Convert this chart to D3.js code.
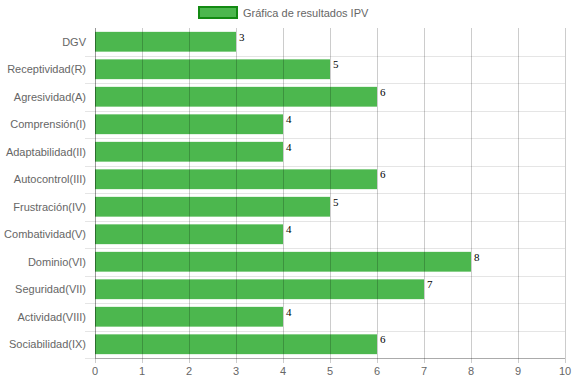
<!DOCTYPE html>
<html>
<head>
<meta charset="utf-8">
<script src="https://cdn.jsdelivr.net/npm/d3@7/dist/d3.min.js"></script>
<style>
  body { margin: 0; background: #fff; }
  svg text { font-family: "Liberation Sans", Arial, sans-serif; }
</style>
</head>
<body>
<div id="chart"></div>
<script>
(function(){
  var categories = ['DGV', 'Receptividad(R)', 'Agresividad(A)', 'Comprensión(I)', 'Adaptabilidad(II)',
    'Autocontrol(III)', 'Frustración(IV)', 'Combatividad(V)', 'Dominio(VI)', 'Seguridad(VII)',
    'Actividad(VIII)', 'Sociabilidad(IX)']
  var values = [3, 5, 6, 4, 4, 6, 5, 4, 8, 7, 4, 6]
  var xTicks = [0, 1, 2, 3, 4, 5, 6, 7, 8, 9, 10]
  var seriesName = 'Gráfica de resultados IPV'

  var width = 574,
      height = 383
  var left = 95, right = 565, top = 28, bottom = 358

  var svg = d3.select('#chart')
    .append('svg')
    .attr('width', width)
    .attr('height', height)

  var x = d3.scaleLinear().domain([0, 10]).range([left, right])
  var y = d3.scaleBand().domain(categories).range([top, bottom])
  var barH = y.bandwidth() * 0.72

  var data = categories.map(function(c, i){ return {name: c, value: values[i]} })

  // horizontal grid at band boundaries
  var bounds = categories.map(function(c){ return y(c) }).concat([bottom])
  svg.selectAll('.hgrid')
    .data(bounds.slice(1))
    .enter().append('line')
    .attr('x1', left - 10).attr('x2', right)
    .attr('y1', function(d){ return Math.round(d) + 0.5 })
    .attr('y2', function(d){ return Math.round(d) + 0.5 })
    .attr('stroke', 'rgba(0,0,0,0.1)')

  // bars
  svg.selectAll('.bar')
    .data(data)
    .enter().append('rect')
    .attr('x', x(0))
    .attr('y', function(d){ return y(d.name) + (y.bandwidth() - barH) / 2 })
    .attr('width', function(d){ return x(d.value) - x(0) })
    .attr('height', barH)
    .attr('fill', '#4cb74e')

  // vertical grid on top (visible through bars)
  svg.selectAll('.vgrid')
    .data(xTicks)
    .enter().append('line')
    .attr('x1', function(d){ return Math.round(x(d)) + 0.5 })
    .attr('x2', function(d){ return Math.round(x(d)) + 0.5 })
    .attr('y1', top).attr('y2', bottom + 5)
    .attr('stroke', 'rgba(0,0,0,0.2)')

  // bottom axis line
  svg.append('line')
    .attr('x1', left).attr('x2', right)
    .attr('y1', bottom + 0.5).attr('y2', bottom + 0.5)
    .attr('stroke', 'rgba(0,0,0,0.25)')

  // left axis line
  svg.append('line')
    .attr('x1', left + 0.5).attr('x2', left + 0.5)
    .attr('y1', top).attr('y2', bottom)
    .attr('stroke', 'rgba(0,0,0,0.25)')

  // x tick labels
  svg.selectAll('.xlab')
    .data(xTicks)
    .enter().append('text')
    .attr('x', function(d){ return x(d) })
    .attr('y', bottom + 17)
    .attr('text-anchor', 'middle')
    .attr('font-size', 11)
    .attr('fill', '#666')
    .text(function(d){ return d })

  // category labels
  svg.selectAll('.ylab')
    .data(categories)
    .enter().append('text')
    .attr('x', left - 9)
    .attr('y', function(d){ return y(d) + y.bandwidth() / 2 + 4 })
    .attr('text-anchor', 'end')
    .attr('font-size', 11)
    .attr('fill', '#666')
    .text(function(d){ return d })

  // value labels
  svg.selectAll('.val')
    .data(data)
    .enter().append('text')
    .attr('x', function(d){ return x(d.value) + 3 })
    .attr('y', function(d){ return y(d.name) + (y.bandwidth() - barH) / 2 + 9 })
    .attr('font-size', 11)
    .style('font-family', '"Liberation Serif", "Times New Roman", serif')
    .attr('fill', '#000')
    .text(function(d){ return d.value })

  // legend
  svg.append('rect')
    .attr('x', 199).attr('y', 7)
    .attr('width', 38).attr('height', 11)
    .attr('fill', '#4cb74e')
    .attr('stroke', '#138a13')
    .attr('stroke-width', 2)
  svg.append('text')
    .attr('x', 243).attr('y', 17)
    .attr('font-size', 11)
    .attr('fill', '#666')
    .text(seriesName)
})()
</script>
</body>
</html>
